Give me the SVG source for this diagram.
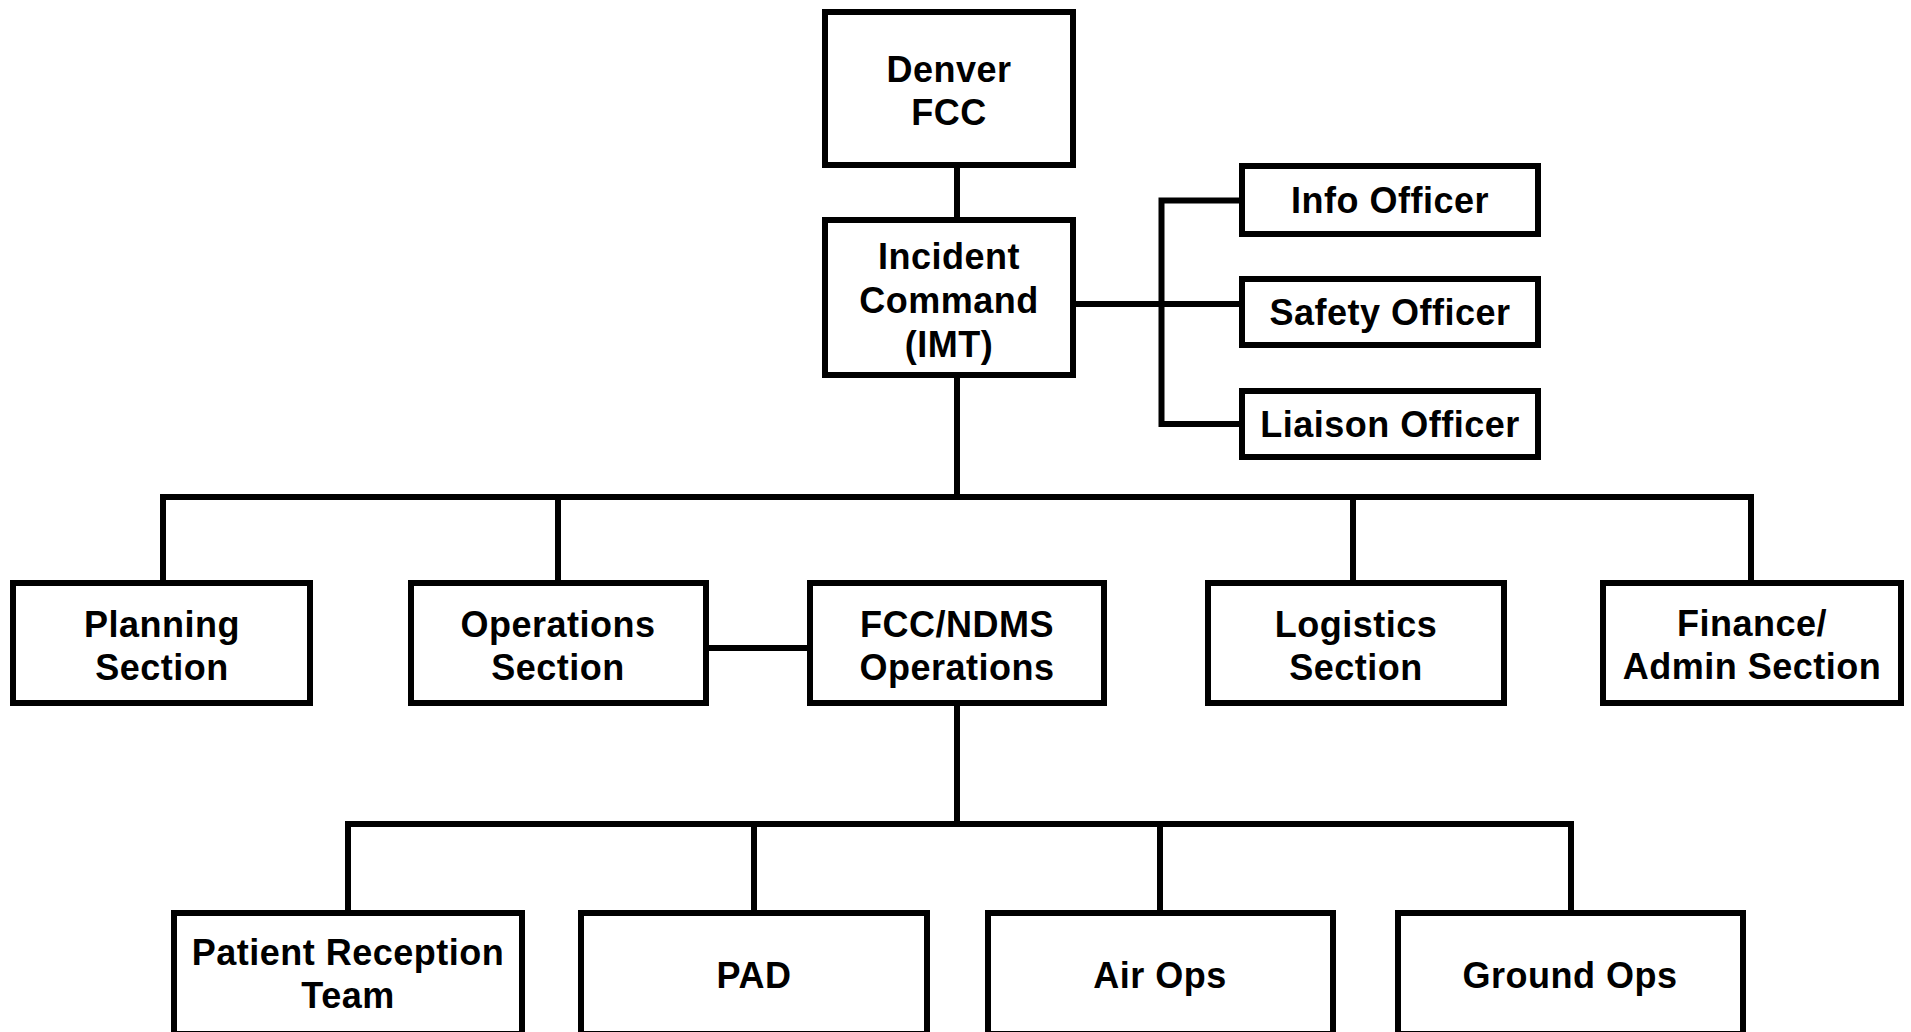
<svg xmlns="http://www.w3.org/2000/svg" width="1911" height="1032" viewBox="0 0 1911 1032">
<style>
.box{fill:#fff;stroke:#000;stroke-width:6}
.ln{fill:none;stroke:#000;stroke-width:6;stroke-linejoin:miter}
.t{font-family:"Liberation Sans",Arial,sans-serif;font-weight:bold;font-size:36px;letter-spacing:0.5px;text-anchor:middle;fill:#000}
</style>
<rect width="1911" height="1032" fill="#fff"/>
<g id="connectors">
<path class="ln" d="M957 168V217"/>
<path class="ln" d="M1076 304H1239"/>
<path class="ln" d="M1239 200.5H1161.5V424H1239"/>
<path class="ln" d="M957 378V497"/>
<path class="ln" d="M163 580V497H1751V580"/>
<path class="ln" d="M558 497V580M1353 497V580"/>
<path class="ln" d="M709 648H807"/>
<path class="ln" d="M957 706V824"/>
<path class="ln" d="M348 910V824H1571V910"/>
<path class="ln" d="M754 824V910M1160 824V910"/>
</g>
<g id="denver"><rect class="box" x="825" y="12" width="248" height="153"/><text class="t" x="949" y="82">Denver</text><text class="t" x="949" y="125">FCC</text></g>
<g id="ic"><rect class="box" x="825" y="220" width="248" height="155"/><text class="t" x="949" y="269">Incident</text><text class="t" x="949" y="313">Command</text><text class="t" x="949" y="357">(IMT)</text></g>
<g id="info"><rect class="box" x="1242" y="166" width="296" height="68"/><text class="t" x="1390" y="213">Info Officer</text></g>
<g id="safety"><rect class="box" x="1242" y="279" width="296" height="66"/><text class="t" x="1390" y="325">Safety Officer</text></g>
<g id="liaison"><rect class="box" x="1242" y="391" width="296" height="66"/><text class="t" x="1390" y="437">Liaison Officer</text></g>
<g id="planning"><rect class="box" x="13" y="583" width="297" height="120"/><text class="t" x="162" y="637">Planning</text><text class="t" x="162" y="680">Section</text></g>
<g id="operations"><rect class="box" x="411" y="583" width="295" height="120"/><text class="t" x="558" y="637">Operations</text><text class="t" x="558" y="680">Section</text></g>
<g id="fccndms"><rect class="box" x="810" y="583" width="294" height="120"/><text class="t" x="957" y="637">FCC/NDMS</text><text class="t" x="957" y="680">Operations</text></g>
<g id="logistics"><rect class="box" x="1208" y="583" width="296" height="120"/><text class="t" x="1356" y="637">Logistics</text><text class="t" x="1356" y="680">Section</text></g>
<g id="finance"><rect class="box" x="1603" y="583" width="298" height="120"/><text class="t" x="1752" y="636">Finance/</text><text class="t" x="1752" y="679">Admin Section</text></g>
<g id="patient"><rect class="box" x="174" y="913" width="348" height="121"/><text class="t" x="348" y="965">Patient Reception</text><text class="t" x="348" y="1008">Team</text></g>
<g id="pad"><rect class="box" x="581" y="913" width="346" height="121"/><text class="t" x="754" y="988">PAD</text></g>
<g id="airops"><rect class="box" x="988" y="913" width="345" height="121"/><text class="t" x="1160" y="988">Air Ops</text></g>
<g id="groundops"><rect class="box" x="1398" y="913" width="345" height="121"/><text class="t" x="1570" y="988">Ground Ops</text></g>
</svg>
